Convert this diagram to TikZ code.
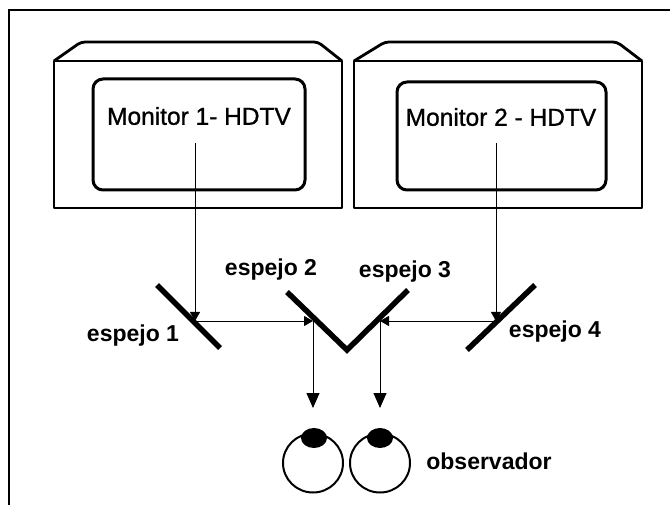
\documentclass[tikz,border=0pt]{standalone}
\usepackage{fontspec}
\setmainfont{Liberation Sans}
\usetikzlibrary{arrows.meta}
\begin{document}
\begin{tikzpicture}[x=1pt,y=-1pt,
  frame/.style={line width=1.6pt},
  cabinet/.style={line width=2.2pt, line join=round},
  cabtop/.style={line width=2.8pt, line join=round, rounded corners=4pt},
  screen/.style={line width=3pt, rounded corners=10pt},
  beam/.style={line width=0.9pt},
  mirror/.style={line width=5.5pt, line cap=butt},
  tip/.style={-{Triangle[length=9pt,width=10pt]}},
  bigtip/.style={-{Triangle[length=15pt,width=13pt]}},
  montext/.style={font=\fontsize{24.5}{28}\selectfont\addfontfeature{FakeBold=1}},
  lbl/.style={font=\bfseries\fontsize{23}{26}\selectfont},
  eyeball/.style={line width=2pt},
  pupil/.style={fill=black}]
\useasboundingbox (0,0) rectangle (670,505);

% outer frame (top and left edges only)
\draw[frame] (9,505) -- (9,10) -- (670,10);

% monitor 1
\draw[cabinet] (54,61) rectangle (342,208);
\draw[cabtop] (54,61) -- (81,42) -- (318,42) -- (342,61);
\draw[screen] (93,79) rectangle (305,190);
\node[montext] (t1) at (199,116) {Monitor 1- HDTV};

% monitor 2
\draw[cabinet] (354,61) rectangle (642,208);
\draw[cabtop] (354,61) -- (385,42) -- (617,42) -- (642,61);
\draw[screen] (397,82) rectangle (606,190);
\node[montext] (t2) at (501,117) {Monitor 2 - HDTV};

% mirrors
\draw[mirror] (157,285) -- (220,348);
\draw[mirror, line join=miter] (287,292) -- (347,350) -- (408,290);
\draw[mirror] (467,350) -- (535,285);

% mirror labels
\node[lbl] (l1) at (133,336) {espejo 1};
\node[lbl] (l2) at (271,270) {espejo 2};
\node[lbl] (l3) at (405,272) {espejo 3};
\node[lbl] (l4) at (555,332) {espejo 4};

% light path points
\coordinate (s1) at (195,143);
\coordinate (s2) at (496,143);
\coordinate (h1) at (195,321);
\coordinate (h2) at (313,321);
\coordinate (h3) at (380,321);
\coordinate (h4) at (496,321);
\coordinate (e1) at (313,408);
\coordinate (e2) at (380,408);

% beams
\draw[beam,tip] (s1) -- (h1);
\draw[beam,tip] (h1) -- (h2);
\draw[beam,tip] (s2) -- (h4);
\draw[beam,tip] (h4) -- (h3);
\draw[beam,bigtip] (h2) -- (e1);
\draw[beam,bigtip] (h3) -- (e2);

% eyes: eyeball with the pupil sitting on its upper rim
\draw[eyeball] (313,463) ellipse (30 and 29.5);
\fill[pupil] (314,438) ellipse (13 and 10);
\draw[eyeball] (380,463) ellipse (30 and 29.5);
\fill[pupil] (380,438) ellipse (13 and 10);
\node[lbl] (obs) at (489,461) {observador};
\end{tikzpicture}
\end{document}
